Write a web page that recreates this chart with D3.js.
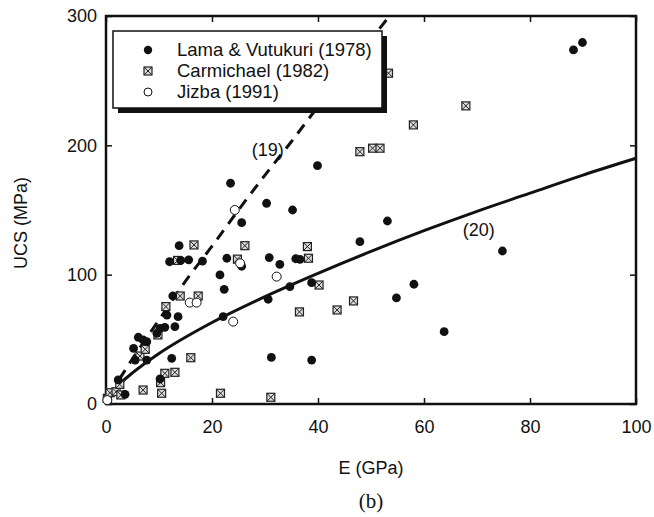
<!DOCTYPE html>
<html>
<head>
<meta charset="utf-8">
<script src="https://cdn.jsdelivr.net/npm/d3@7"></script>
<style>
  body { margin: 0; background: #fff; }
  text { font-family: "Liberation Sans", Arial, sans-serif; fill: #111; }
</style>
</head>
<body>
<div class="chart"></div>
<script>

// data
const lamaE   = [2.3, 3.6, 5.2, 5.5, 6.1, 7.0, 7.7, 7.7, 9.6, 10.2, 11.1, 13.0, 11.5, 13.6, 12.6, 10.2, 12.4,
                 12.0, 14.1, 15.6, 18.2, 13.8, 22.8, 25.6, 21.5, 22.3, 22.1, 23.5, 25.6, 30.3, 35.2, 30.8,
                 32.8, 35.8, 36.6, 30.6, 34.7, 38.8, 31.2, 38.8, 39.9, 47.9, 53.1, 54.8, 58.1, 63.8, 74.8, 88.2, 89.9];
const lamaUCS = [18.6, 7.5, 43, 34, 51.6, 49.5, 48.2, 34, 54.7, 58.5, 59.3, 59.8, 68.8, 67.5, 83.5, 19.5, 35.3,
                 110, 111, 111.5, 110.5, 122.4, 112.7, 106.5, 99.8, 88.7, 67.5, 170.7, 140.2, 155.2, 150, 113.2,
                 108, 112.3, 111.9, 81, 90.7, 93.8, 36, 34, 184.3, 125.5, 141.5, 82, 92.6, 55.9, 118.3, 273.8, 279.5];

const carmE   = [0.25, 0.75, 1.9, 2.8, 2.6, 6.4, 7.4, 7.0, 9.8, 10.3, 10.5, 11.1, 13.0, 11.3, 13.5, 14.0, 17.4,
                 16.6, 16.0, 21.6, 24.8, 26.2, 31.1, 36.5, 38.0, 38.2, 40.2, 43.6, 46.7, 47.9, 50.3, 51.7, 53.3, 58.0, 67.9];
const carmUCS = [4.4, 8.7, 9.5, 7, 15.2, 37.1, 42.3, 10.8, 53.4, 16.5, 8.3, 23.7, 24.5, 75.3, 111, 83.5, 83.5,
                 123, 35.8, 8.3, 112, 122.4, 5.2, 71.2, 121.7, 112.7, 92, 72.7, 79.7, 195.1, 197.8, 197.8, 255.8, 215.8, 230.5];

const jizbaE   = [0.25, 15.8, 17.1, 24.0, 24.3, 25.3, 32.2];
const jizbaUCS = [3, 78.4, 78.4, 63.7, 150, 108.8, 98.5];

// fitted curves (19) dashed and (20) solid
const eq19E   = [2.5, 5, 10, 15, 20, 25, 30, 35, 40, 45, 50, 53.5];
const eq19UCS = [19, 35, 65, 95, 122, 150, 177, 203, 230, 256, 282, 300];
const eq20E   = [1.5, 3, 5, 10, 20, 30, 40, 50, 60, 70, 80, 90, 100];
const eq20UCS = [10, 17, 24, 39, 63, 83, 101, 118, 134, 149, 163, 177, 190];

const xTicks = [0, 20, 40, 60, 80, 100];
const yTicks = [0, 100, 200, 300];

const legendLabels = ["Lama & Vutukuri (1978)", "Carmichael (1982)", "Jizba (1991)"];

// margin convention
const margin = {top: 16, right: 18, bottom: 113, left: 106};
const W = 654, H = 517;
const width = W - margin.left - margin.right,
      height = H - margin.top - margin.bottom;

const svg0 = d3.select(".chart").append("svg")
    .attr("width", W)
    .attr("height", H);

const svg = svg0.append("g")
    .attr("transform", `translate(${margin.left},${margin.top})`);

const x = d3.scaleLinear().domain([0, 100]).range([0, width]);
const y = d3.scaleLinear().domain([0, 300]).range([height, 0]);

const zip = (a, b) => a.map((v, i) => [v, b[i]]);

// axes, ticks pointing inward
const xAxisSVG = svg.append("g")
    .attr("transform", `translate(0,${height})`)
    .call(d3.axisBottom(x).tickValues(xTicks).tickSizeInner(-6).tickSizeOuter(0).tickPadding(16));
const yAxisSVG = svg.append("g")
    .call(d3.axisLeft(y).tickValues(yTicks).tickSizeInner(-6).tickSizeOuter(0).tickPadding(9));
svg.append("g")
    .call(d3.axisTop(x).tickValues(xTicks).tickSizeInner(-6).tickSizeOuter(0).tickFormat(""));
svg.append("g")
    .attr("transform", `translate(${width},0)`)
    .call(d3.axisRight(y).tickValues(yTicks).tickSizeInner(-6).tickSizeOuter(0).tickFormat(""));

svg.selectAll(".domain").remove();
svg.selectAll(".tick line").attr("stroke", "#111").attr("stroke-width", 1.5);
svg.selectAll(".tick text").style("font-size", "18px").attr("fill", "#111");

// frame
svg.append("rect")
    .attr("width", width).attr("height", height)
    .attr("fill", "none").attr("stroke", "#111").attr("stroke-width", 2.5);

// curves
const line = d3.line().x(d => x(d[0])).y(d => y(d[1])).curve(d3.curveMonotoneX);

svg.append("path")
    .datum(zip(eq20E, eq20UCS))
    .attr("d", line)
    .attr("fill", "none").attr("stroke", "#111").attr("stroke-width", 3);

svg.append("path")
    .datum(zip(eq19E, eq19UCS))
    .attr("d", line)
    .attr("fill", "none").attr("stroke", "#111").attr("stroke-width", 3)
    .attr("stroke-dasharray", "11,8");

// markers
function square(g, s) {
    g.append("rect").attr("x", -s / 2).attr("y", -s / 2).attr("width", s).attr("height", s)
        .attr("fill", "#ddd").attr("stroke", "#222").attr("stroke-width", 1.2);
    g.append("path").attr("d", `M${-s/2},${-s/2}L${s/2},${s/2}M${s/2},${-s/2}L${-s/2},${s/2}`)
        .attr("stroke", "#222").attr("stroke-width", 1);
}

svg.append("g").selectAll("g")
    .data(zip(carmE, carmUCS))
    .join("g")
    .attr("transform", d => `translate(${x(d[0])},${y(d[1])})`)
    .each(function() { square(d3.select(this), 8); });

svg.append("g").selectAll("circle")
    .data(zip(lamaE, lamaUCS))
    .join("circle")
    .attr("cx", d => x(d[0])).attr("cy", d => y(d[1]))
    .attr("r", 4.4).attr("fill", "#111");

svg.append("g").selectAll("circle")
    .data(zip(jizbaE, jizbaUCS))
    .join("circle")
    .attr("cx", d => x(d[0])).attr("cy", d => y(d[1]))
    .attr("r", 4.5).attr("fill", "#fff").attr("stroke", "#111").attr("stroke-width", 1);

// curve labels
svg.append("text").attr("x", x(27.5)).attr("y", y(192)).text("(19)").style("font-size", "18px");
svg.append("text").attr("x", x(67.3)).attr("y", y(130)).text("(20)").style("font-size", "18px");

// legend with drop shadow
const legend = svg.append("g").attr("transform", "translate(7,15)");
legend.append("rect").attr("x", 5).attr("y", 5).attr("width", 269).attr("height", 77).attr("fill", "#111");
legend.append("rect").attr("width", 269).attr("height", 77)
    .attr("fill", "#fff").attr("stroke", "#111").attr("stroke-width", 1.5);

legendLabels.forEach((lab, i) => {
    const row = legend.append("g").attr("transform", `translate(35,${19 + i * 21})`);
    if (i === 0) row.append("circle").attr("r", 4.2).attr("fill", "#111");
    if (i === 1) square(row, 8);
    if (i === 2) row.append("circle").attr("r", 4).attr("fill", "#fff").attr("stroke", "#111");
    row.append("text").attr("x", 29).attr("dy", "0.35em").text(lab).style("font-size", "18.5px");
});

// axis titles
svg.append("text")
    .attr("x", width / 2).attr("y", height + 70)
    .attr("text-anchor", "middle").style("font-size", "18px")
    .text("E (GPa)");

svg.append("text")
    .attr("transform", `translate(-79,${y(140)}) rotate(-90)`)
    .attr("text-anchor", "middle").style("font-size", "18px")
    .text("UCS (MPa)");

svg0.append("text")
    .attr("x", margin.left + width / 2).attr("y", 508)
    .attr("text-anchor", "middle")
    .style("font-family", "'Liberation Serif', 'Times New Roman', serif").style("font-size", "21px")
    .text("(b)");

</script>
</body>
</html>
